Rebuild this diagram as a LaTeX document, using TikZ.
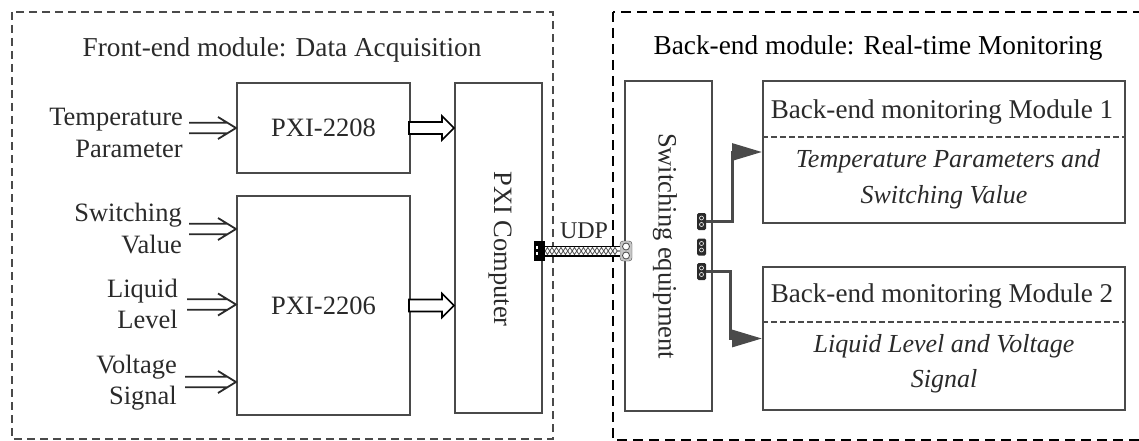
\documentclass[tikz,border=0pt]{standalone}
\usepackage{fontspec}
\setmainfont{Liberation Serif}
\usetikzlibrary{arrows.meta,decorations.pathmorphing,calc}
\definecolor{txt}{HTML}{2A2A2A}
\definecolor{ln}{HTML}{4A4A4A}
\begin{document}
\begin{tikzpicture}[x=1pt,y=-1pt,
  lbl/.style={font=\fontsize{26.5}{32}\selectfont, text=txt, inner sep=0pt},
  ttl/.style={font=\fontsize{27.3}{32}\selectfont, inner sep=0pt},
  ital/.style={font=\fontsize{26}{32}\selectfont\itshape, text=txt, inner sep=0pt},
  blk/.style={draw=ln, line width=2pt, fill=white, inner sep=0pt, font=\fontsize{26.5}{32}\selectfont, text=txt},
  inarrow/.style={draw=txt, line width=1.8pt, line join=miter,
    to path={($(\tikztostart)+(0,-5.2)$) -- ($(\tikztotarget)+(-8.5,-5.2)$)
             ($(\tikztostart)+(0,5.2)$) -- ($(\tikztotarget)+(-8.5,5.2)$)
             ($(\tikztotarget)+(-18,-11)$) -- (\tikztotarget) -- ($(\tikztotarget)+(-18,11)$)}},
  hollow/.style={draw=black, line width=1.6pt, fill=white, line join=miter},
  modarrow/.style={draw=ln, line width=3pt, -{Triangle[length=30pt,width=17pt]}},
  port/.style={fill=txt, rounded corners=1.5pt, minimum width=9pt, minimum height=17pt, inner sep=0pt},
  divider/.style={draw=ln, line width=1.3pt, dash pattern=on 6pt off 3pt},
]
\useasboundingbox (0,0) rectangle (1139,441);
\clip (0,0) rectangle (1139,441);

% frames
\draw[ln, line width=1.8pt, dash pattern=on 8pt off 5pt] (12,12) rectangle (553,439);
\draw[black, line width=2.7pt, dash pattern=on 10pt off 6pt] (613,12) rectangle (1170,440);

\node[ttl, text=txt, anchor=base] (t1) at (282,57) {Front-end module: Data Acquisition};
\node[ttl, text=black, anchor=base] (t2) at (878,55) {Back-end module: Real-time Monitoring};

% front-end boxes
\node[blk, minimum width=173pt, minimum height=90pt] (p2208) at (323.5,128) {PXI-2208};
\node[blk, minimum width=173pt, minimum height=219pt] (p2206) at (323.5,305.5) {PXI-2206};
\node[blk, minimum width=87pt, minimum height=330pt] (pc) at (498.5,248) {};
\node[lbl, rotate=-90] (pct) at (500,249) {PXI Computer};

% input labels
\node[lbl, anchor=base east] (l1a) at (183,125) {Temperature};
\node[lbl, anchor=base east] (l1b) at (183,157) {Parameter};
\node[lbl, anchor=base east] (l2a) at (182,221) {Switching};
\node[lbl, anchor=base east] (l2b) at (182,253) {Value};
\node[lbl, anchor=base east] (l3a) at (178,297) {Liquid};
\node[lbl, anchor=base east] (l3b) at (178,328) {Level};
\node[lbl, anchor=base east] (l4a) at (177,373) {Voltage};
\node[lbl, anchor=base east] (l4b) at (177,404) {Signal};

\coordinate (i1) at (189,128);
\coordinate (i2) at (189,229);
\coordinate (i3) at (187,304.5);
\coordinate (i4) at (185,382);
\draw[inarrow] (i1) to (i1 -| p2208.west);
\draw[inarrow] (i2) to (i2 -| p2206.west);
\draw[inarrow] (i3) to (i3 -| p2206.west);
\draw[inarrow] (i4) to (i4 -| p2206.west);

% hollow block arrows
\draw[hollow] ($(p2208.east)+(-2,-6)$) -- ($(p2208.east -| pc.west)+(-12,-6)$) -- ($(p2208.east -| pc.west)+(-12,-12)$)
  -- (p2208.east -| pc.west) -- ($(p2208.east -| pc.west)+(-12,12)$) -- ($(p2208.east -| pc.west)+(-12,6)$)
  -- ($(p2208.east)+(-2,6)$) -- cycle;
\draw[hollow] ($(p2206.east)+(-2,-6)$) -- ($(p2206.east -| pc.west)+(-12,-6)$) -- ($(p2206.east -| pc.west)+(-12,-12)$)
  -- (p2206.east -| pc.west) -- ($(p2206.east -| pc.west)+(-12,12)$) -- ($(p2206.east -| pc.west)+(-12,6)$)
  -- ($(p2206.east)+(-2,6)$) -- cycle;

% back-end boxes
\node[blk, minimum width=87pt, minimum height=330pt] (sw) at (668.5,246) {};
\node[lbl, rotate=-90] (swt) at (665,246) {Switching equipment};

\node[blk, minimum width=362pt, minimum height=142pt] (m1) at (944,152) {};
\node[blk, minimum width=362pt, minimum height=143pt] (m2) at (944,338.5) {};
\draw[divider] (m1.west |- 0,137) -- (m1.east |- 0,137);
\draw[divider] (m2.west |- 0,322) -- (m2.east |- 0,322);
\node[ttl, text=txt, font=\fontsize{27.1}{32}\selectfont, anchor=base] (m1t) at (942,118) {Back-end monitoring Module 1};
\node[ital, anchor=base] (m1a) at (948,167) {Temperature Parameters and};
\node[ital, anchor=base] (m1b) at (944,203) {Switching Value};
\node[ttl, text=txt, font=\fontsize{27.1}{32}\selectfont, anchor=base] (m2t) at (942,302) {Back-end monitoring Module 2};
\node[ital, anchor=base] (m2a) at (944,352) {Liquid Level and Voltage};
\node[ital, anchor=base] (m2b) at (944,387) {Signal};

% switch ports
\node[port] (s1) at (701.5,221.5) {};
\node[port] (s2) at (701.5,247) {};
\node[port] (s3) at (701.5,271.5) {};
\foreach \s in {s1,s2,s3}{
  \draw[white, line width=0.6pt] ($(\s.center)+(0,-3.5)$) circle (2pt);
  \draw[white, line width=0.6pt] ($(\s.center)+(0,3)$) circle (2pt);
}
\draw[modarrow] (s1.east) -- ($(s1.east)+(26,0)$) |- (m1.west);
\draw[modarrow] (s3.east) -- ($(s3.east)+(24,0)$) |- (m2.west);

% UDP link
\node[fill=black, minimum width=11pt, minimum height=20pt, inner sep=0pt] (pa) at (539.5,251) {};
\fill[white] ($(pa.west)+(2,-5)$) rectangle +(2.5,2.5);
\fill[white] ($(pa.west)+(2,1)$) rectangle +(2.5,2.5);
\node[draw=ln, fill=gray!45, rounded corners=3pt, minimum width=12pt, minimum height=20pt, inner sep=0pt] (pb) at (626,251) {};
\draw[ln, fill=white, line width=0.8pt] ($(pb.center)+(0,-4.5)$) circle (3.5pt);
\draw[ln, fill=white, line width=0.8pt] ($(pb.center)+(0,4.5)$) circle (3.5pt);
\draw[black, line width=11pt] (pa.east) -- (pb.west);
\draw[white, line width=7.5pt] (pa.east) -- (pb.west);
\draw[gray!60!black, line width=0.8pt, decorate, decoration={zigzag, amplitude=3.5pt, segment length=9pt}] (pa.east) -- (pb.west);
\draw[gray!60!black, line width=0.8pt, decorate, decoration={zigzag, amplitude=3.5pt, segment length=9pt, mirror}] (pa.east) -- (pb.west);
\node[lbl, font=\fontsize{24}{28}\selectfont, anchor=base] (udp) at (584,238) {UDP};
\end{tikzpicture}
\end{document}
